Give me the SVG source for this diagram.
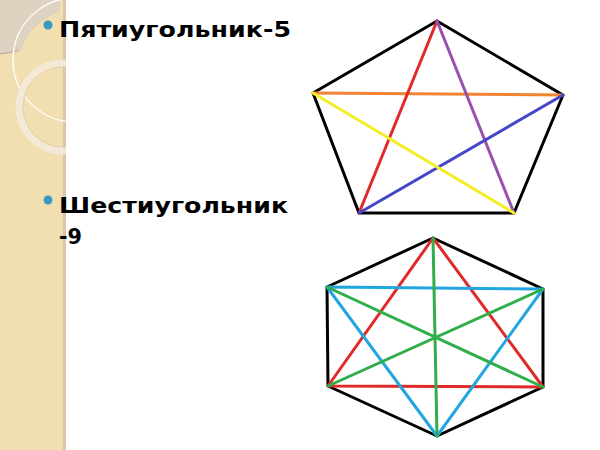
<svg xmlns="http://www.w3.org/2000/svg" width="600" height="450" viewBox="0 0 600 450">
<style>
.t{font-family:"DejaVu Sans","Liberation Sans",sans-serif;font-weight:bold;font-size:22px;fill:#000}
.bl{fill:#3a97bd}
.e{fill:none;stroke-width:3;stroke-linecap:round}
.k{stroke:#000}
</style>
<rect width="600" height="450" fill="#fff"/>
<g id="strip">
<rect x="0" y="0" width="64" height="450" fill="#f1dfb2"/>
<rect x="63" y="0" width="3" height="450" fill="#d9c7a6"/>
<path d="M0 0 H60 V12 A62 62 0 0 0 20 52 Q8 54 0 54 Z" fill="#ddd3c0"/>
<path d="M0 54 Q10 53 18 50" fill="none" stroke="#b9a98c" stroke-width="1"/>
<circle cx="75" cy="60" r="62" fill="none" stroke="#fff" stroke-width="1.3"/>
<circle cx="63" cy="107" r="44" fill="none" stroke="#f3ebdc" stroke-width="7" opacity="0.85"/>
<circle cx="63" cy="107" r="40" fill="none" stroke="#e0d0b0" stroke-width="1"/>
<rect x="66" y="0" width="534" height="450" fill="#fff"/>
</g>
<g id="bullet1">
<circle class="bl" cx="48" cy="25" r="4.5"/>
<text class="t" x="59" y="37" textLength="232" lengthAdjust="spacingAndGlyphs">Пятиугольник-5</text>
</g>
<g id="bullet2">
<circle class="bl" cx="48" cy="200" r="4.5"/>
<text class="t" x="59" y="213" textLength="229" lengthAdjust="spacingAndGlyphs">Шестиугольник</text>
<text class="t" x="59" y="244" textLength="23" lengthAdjust="spacingAndGlyphs">-9</text>
</g>
<g id="pentagon">
<polygon class="e k" points="437,21 563,95 514,213 359,213 313,93" stroke-linejoin="round"/>
<line class="e" x1="313" y1="93" x2="563" y2="95" stroke="#ef8433"/>
<line class="e" x1="437" y1="21" x2="359" y2="213" stroke="#e02a2a"/>
<line class="e" x1="437" y1="21" x2="514" y2="213" stroke="#9a4fb0"/>
<line class="e" x1="563" y1="95" x2="359" y2="213" stroke="#4646c8"/>
<line class="e" x1="313" y1="93" x2="514" y2="213" stroke="#f3ee25"/>
</g>
<g id="hexagon">
<polygon class="e k" points="433,238 543,289 543,387 437,436 328,386 327,287" stroke-linejoin="round"/>
<polygon class="e" points="433,238 543,387 328,386" stroke="#e02a2a" stroke-linejoin="round"/>
<polygon class="e" points="327,287 543,289 437,436" stroke="#22a6df" stroke-linejoin="round"/>
<line class="e" x1="433" y1="238" x2="437" y2="436" stroke="#2fae4a"/>
<line class="e" x1="327" y1="287" x2="543" y2="387" stroke="#2fae4a"/>
<line class="e" x1="543" y1="289" x2="328" y2="386" stroke="#2fae4a"/>
</g>
</svg>
